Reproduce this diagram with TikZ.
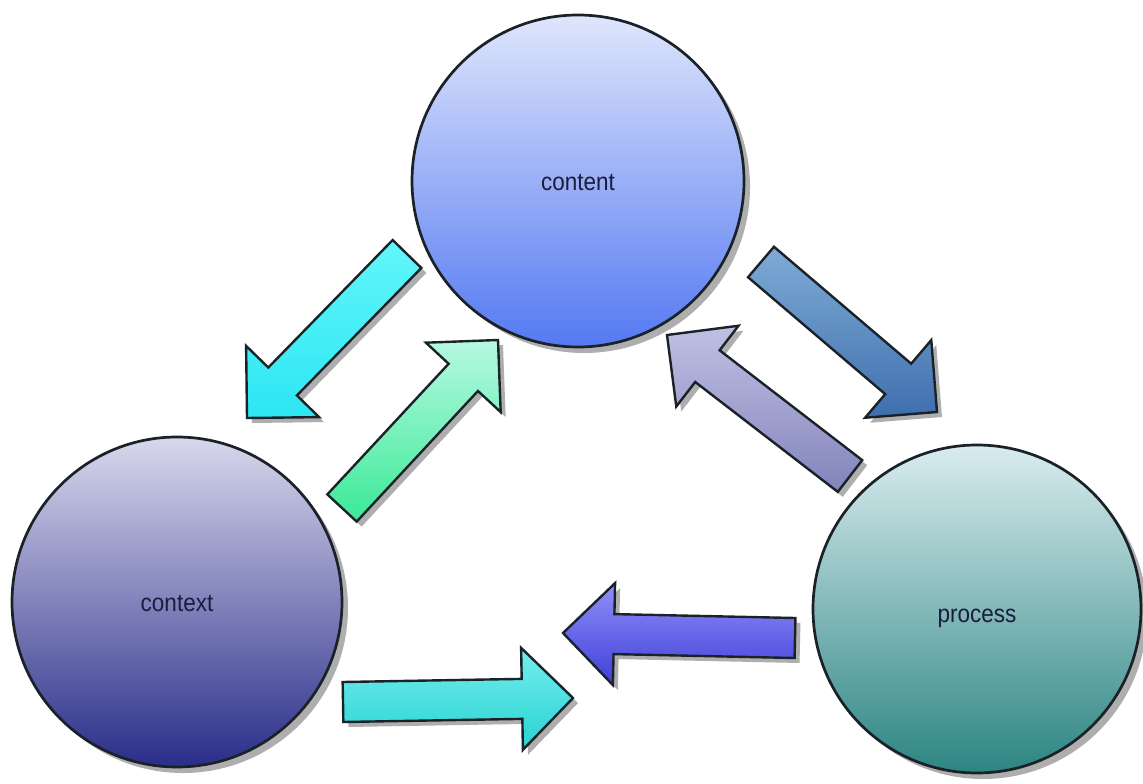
\documentclass[tikz,border=0pt]{standalone}
\usepackage{fontspec}
\setmainfont{Liberation Sans}[FakeStretch=0.9]
\usetikzlibrary{calc,shadows}

\definecolor{outline}{HTML}{1A2228}
\definecolor{shadowgray}{HTML}{AEAEAE}
\definecolor{labeltext}{HTML}{1C1C3C}
% circle fills
\definecolor{contentTop}{HTML}{DFE6FB}
\definecolor{contentBot}{HTML}{5479F2}
\definecolor{contextTop}{HTML}{D8D8EC}
\definecolor{contextBot}{HTML}{2A2D8A}
\definecolor{processTop}{HTML}{D9ECEF}
\definecolor{processBot}{HTML}{2C8582}
% arrow fills
\definecolor{aoneTop}{HTML}{62F6FB}
\definecolor{aoneBot}{HTML}{2CE6F2}
\definecolor{atwoTop}{HTML}{B6F8E2}
\definecolor{atwoBot}{HTML}{3AEA96}
\definecolor{athreeTop}{HTML}{7EACD6}
\definecolor{athreeBot}{HTML}{3F6EAE}
\definecolor{afourTop}{HTML}{C0C0E4}
\definecolor{afourBot}{HTML}{8284BA}
\definecolor{afiveTop}{HTML}{74EEEE}
\definecolor{afiveBot}{HTML}{28D2D2}
\definecolor{asixTop}{HTML}{9090FA}
\definecolor{asixBot}{HTML}{3E3ED8}

% a block arrow from a tail point to a tip point: shaft 40pt wide,
% head 102pt wide and 51pt long (90 degree tip)
\newcommand\blockarrow[3]{%
  \path[barrow,#1]
    ($(#2)!20pt!90:(#3)$) --
    ($(#3)!51pt!(#2)!20pt!90:(#3)$) --
    ($(#3)!51pt!(#2)!51pt!90:(#3)$) --
    (#3) --
    ($(#3)!51pt!(#2)!51pt!-90:(#3)$) --
    ($(#3)!51pt!(#2)!20pt!-90:(#3)$) --
    ($(#2)!20pt!-90:(#3)$) -- cycle;}

\tikzset{
  bubble/.style={circle, draw=outline, line width=2.7pt, inner sep=0pt,
    text depth=0pt, text=labeltext, font=\fontsize{25}{25}\selectfont,
    drop shadow={shadow xshift=6pt, shadow yshift=-6pt, fill=shadowgray, opacity=1}},
  barrow/.style={draw=outline, line width=2.4pt, line join=miter,
    drop shadow={shadow xshift=5pt, shadow yshift=-5pt, fill=shadowgray, opacity=1}},
}

\begin{document}
\begin{tikzpicture}[x=1pt, y=-1pt]
  \useasboundingbox (0,0) rectangle (1143,784);
  \fill[white] (0,0) rectangle (1143,784);

  % the three circles
  \node[bubble, minimum size=332pt, text height=18pt,
        top color=contentTop, bottom color=contentBot] (content) at (578,181) {content};
  \node[bubble, minimum size=330pt, text height=18pt,
        top color=contextTop, bottom color=contextBot] (context) at (177,602) {context};
  \node[bubble, minimum size=328pt, text height=26pt,
        top color=processTop, bottom color=processBot] (process) at (977,609) {process};

  % arrow end points
  \coordinate (a1s) at (407,254); \coordinate (a1e) at (247,418);
  \coordinate (a2s) at (342,508); \coordinate (a2e) at (498,340);
  \coordinate (a3s) at (761,262); \coordinate (a3e) at (937,412);
  \coordinate (a4s) at (850,476); \coordinate (a4e) at (667,335);
  \coordinate (a5s) at (343,702); \coordinate (a5e) at (573,698);
  \coordinate (a6s) at (795,638); \coordinate (a6e) at (563,633);

  % content -> context and back
  \blockarrow{top color=aoneTop, bottom color=aoneBot}{a1s}{a1e}
  \blockarrow{top color=atwoTop, bottom color=atwoBot}{a2s}{a2e}
  % content -> process and back
  \blockarrow{top color=athreeTop, bottom color=athreeBot}{a3s}{a3e}
  \blockarrow{top color=afourTop, bottom color=afourBot}{a4s}{a4e}
  % context and process meeting below
  \blockarrow{top color=afiveTop, bottom color=afiveBot}{a5s}{a5e}
  \blockarrow{top color=asixTop, bottom color=asixBot}{a6s}{a6e}
\end{tikzpicture}
\end{document}
